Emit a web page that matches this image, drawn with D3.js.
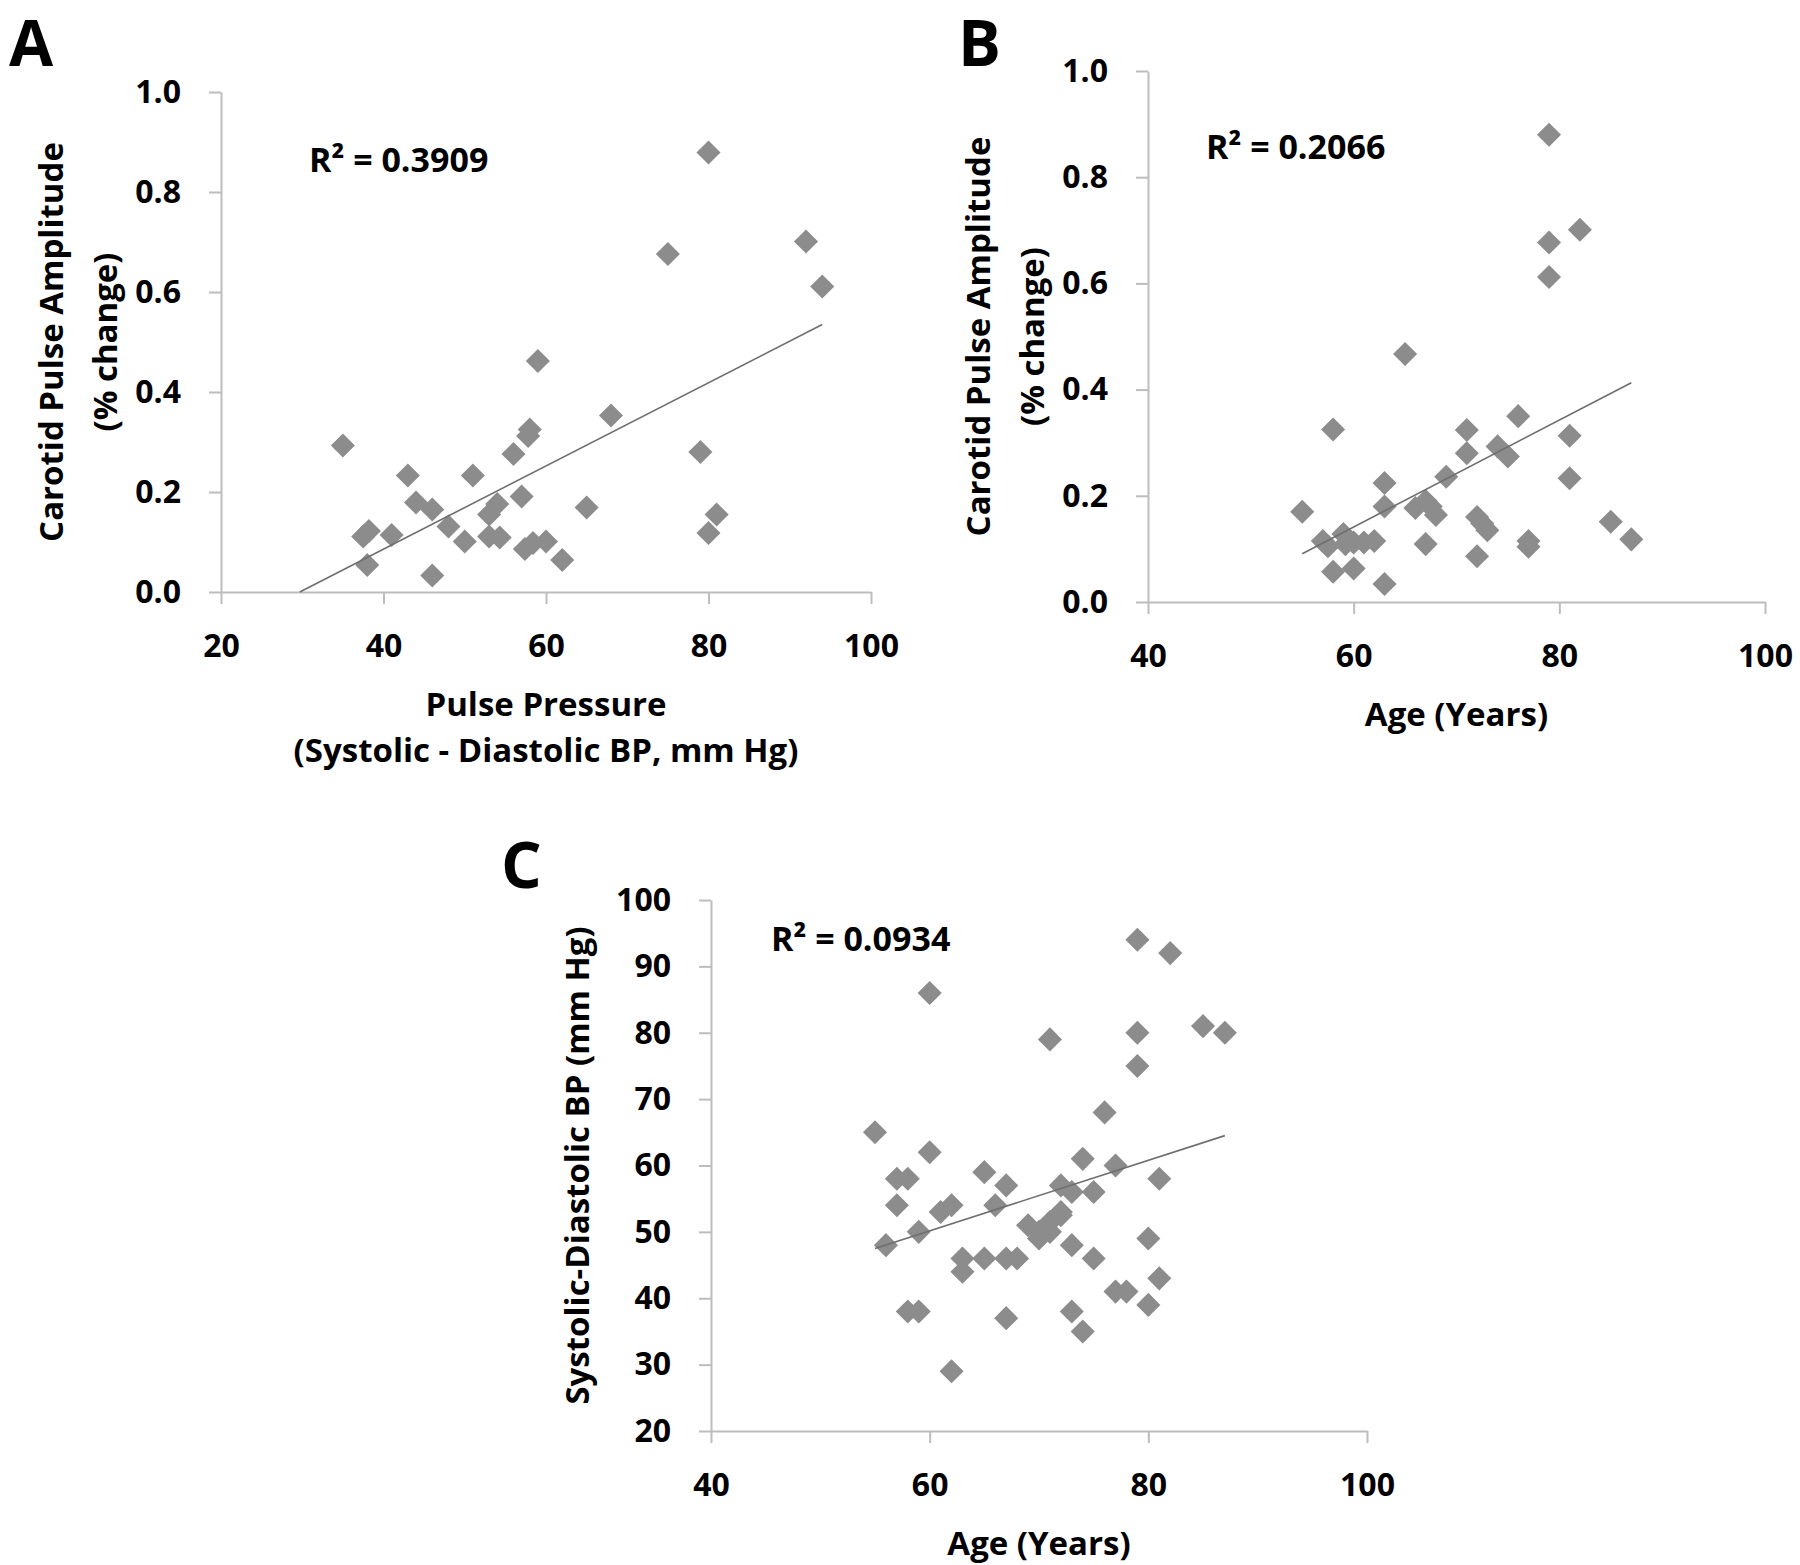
<!DOCTYPE html>
<html>
<head>
<meta charset="utf-8">
<script src="https://cdn.jsdelivr.net/npm/d3@7"></script>
<style>
  body { margin: 0; background: #fff; }
  text { font-family: "Open Sans", Lato, sans-serif; font-weight: 700; fill: #000; }
</style>
</head>
<body>
<div class="chart"></div>
<script>
// panel A: pulse pressure vs carotid pulse amplitude
const ppA  = [35, 38, 37.5, 38.2, 41, 43, 44, 46, 46, 48, 50, 51, 53, 54, 53, 54.3, 56, 57, 57.4, 58.4, 58, 57.8, 59, 60, 62, 65, 68, 75, 79, 80, 80, 81, 92, 94];
const ampA = [0.293, 0.054, 0.111, 0.122, 0.114, 0.233, 0.179, 0.165, 0.033, 0.131, 0.101, 0.233, 0.155, 0.176, 0.111, 0.109, 0.276, 0.191, 0.086, 0.098, 0.325, 0.312, 0.462, 0.101, 0.064, 0.169, 0.353, 0.676, 0.280, 0.879, 0.118, 0.155, 0.701, 0.611];

// panel B: age vs carotid pulse amplitude
const ageB = [55, 57, 57.5, 58, 58, 59, 59.2, 60, 60, 61, 62, 63, 63, 63, 65, 66, 67, 67.5, 68, 67, 69, 71, 71, 72, 72.5, 73, 72, 74, 75, 76, 77, 77, 79, 79, 79, 81, 81, 82, 85, 87];
const ampB = [0.170, 0.115, 0.105, 0.057, 0.325, 0.128, 0.109, 0.112, 0.063, 0.112, 0.115, 0.224, 0.180, 0.034, 0.467, 0.177, 0.190, 0.180, 0.164, 0.109, 0.236, 0.324, 0.280, 0.160, 0.148, 0.135, 0.086, 0.293, 0.274, 0.350, 0.115, 0.104, 0.880, 0.677, 0.612, 0.313, 0.233, 0.701, 0.151, 0.118];

// panel C: age vs systolic-diastolic BP
const ageC = [55, 56, 57, 58, 57, 58, 59, 59, 60, 60, 61, 62, 62, 63, 63, 65, 65, 66, 67, 67, 68, 67, 69, 70, 70, 71, 71, 72, 72, 71, 72, 73, 73, 73, 74, 74, 75, 75, 76, 77, 77, 78, 79, 79, 79, 80, 80, 81, 81, 82, 85, 87];
const bpC  = [65, 48, 58, 58, 54, 38, 38, 50, 62, 86, 53, 54, 29, 46, 44, 59, 46, 54, 57, 46, 46, 37, 51, 49, 50, 50, 51.5, 52.5, 53, 79, 57, 56, 48, 38, 61, 35, 56, 46, 68, 60, 41, 41, 94, 80, 75, 49, 39, 58, 43, 92, 81, 80];

// linear trend lines (end points)
const trendA = [[29.7, 0], [94, 0.535]];
const trendB = [[55, 0.091], [87, 0.413]];
const trendC = [[55, 47.5], [87, 64.5]];

const r2Labels = ["R\u00B2 = 0.3909", "R\u00B2 = 0.2066", "R\u00B2 = 0.0934"];

const xTicksA = [20, 40, 60, 80, 100];
const xTicksAge = [40, 60, 80, 100];
const yTicksAmp = [0, 0.2, 0.4, 0.6, 0.8, 1.0];
const yTicksBP = [20, 30, 40, 50, 60, 70, 80, 90, 100];

const width = 1800, height = 1565;

const svg = d3.select('.chart').append('svg')
    .attr('width', width)
    .attr('height', height)
    .attr('viewBox', [0, 0, width, height]);

const panels = [
    {
        letter: 'A', letterPos: [9, 66],
        xr: [221, 871], yr: [592, 92], xd: [20, 100], yd: [0, 1],
        xs: ppA, ys: ampA, trend: trendA, r2: r2Labels[0], r2Pos: [88, 80],
        xTicks: xTicksA, yTicks: yTicksAmp, yFmt: d3.format('.1f'),
        xTitle: ['Pulse Pressure', '(Systolic - Diastolic BP, mm Hg)'],
        yTitle: ['Carotid Pulse Amplitude', '(% change)']
    },
    {
        letter: 'B', letterPos: [958, 66],
        xr: [1148, 1765], yr: [602, 71], xd: [40, 100], yd: [0, 1],
        xs: ageB, ys: ampB, trend: trendB, r2: r2Labels[1], r2Pos: [58, 88],
        xTicks: xTicksAge, yTicks: yTicksAmp, yFmt: d3.format('.1f'),
        xTitle: ['Age (Years)'],
        yTitle: ['Carotid Pulse Amplitude', '(% change)']
    },
    {
        letter: 'C', letterPos: [501, 888],
        xr: [711, 1367], yr: [1431, 900], xd: [40, 100], yd: [20, 100],
        xs: ageC, ys: bpC, trend: trendC, r2: r2Labels[2], r2Pos: [60, 51],
        xTicks: xTicksAge, yTicks: yTicksBP, yFmt: d3.format('d'),
        xTitle: ['Age (Years)'],
        yTitle: ['Systolic-Diastolic BP (mm Hg)']
    }
];

const diamond = d3.symbol().type(d3.symbolSquare).size(290);

panels.forEach(p => {
    const x = d3.scaleLinear().domain(p.xd).range(p.xr);
    const y = d3.scaleLinear().domain(p.yd).range(p.yr);
    const g = svg.append('g');

    const xAxis = g.append('g')
        .attr('transform', `translate(0,${p.yr[0]})`)
        .call(d3.axisBottom(x).tickValues(p.xTicks).tickSize(12).tickSizeOuter(0).tickPadding(30));
    const yAxis = g.append('g')
        .attr('transform', `translate(${p.xr[0]},0)`)
        .call(d3.axisLeft(y).tickValues(p.yTicks).tickFormat(p.yFmt).tickSize(12).tickSizeOuter(0).tickPadding(28));

    [xAxis, yAxis].forEach(a => {
        a.select('.domain').attr('stroke', '#bdbdbd').attr('stroke-width', 2);
        a.selectAll('.tick line').attr('stroke', '#bdbdbd').attr('stroke-width', 2);
        a.selectAll('.tick text').attr('font-size', 32).attr('font-family', null).attr('fill', '#000');
    });

    // points
    g.append('g').selectAll('path')
        .data(d3.zip(p.xs, p.ys))
        .join('path')
        .attr('d', diamond)
        .attr('transform', d => `translate(${x(d[0])},${y(d[1])}) rotate(45)`)
        .attr('fill', '#8c8c8c');

    // trend line
    g.append('path')
        .datum(p.trend)
        .attr('d', d3.line().x(d => x(d[0])).y(d => y(d[1])))
        .attr('fill', 'none')
        .attr('stroke', '#6e6e6e')
        .attr('stroke-width', 1.6);

    g.append('text')
        .attr('x', p.xr[0] + p.r2Pos[0])
        .attr('y', p.yr[1] + p.r2Pos[1])
        .attr('font-size', 34)
        .text(p.r2);

    // x title
    const xc = (p.xr[0] + p.xr[1]) / 2;
    p.xTitle.forEach((t, i) => {
        g.append('text')
            .attr('x', xc)
            .attr('y', p.yr[0] + 124 + i * 46)
            .attr('text-anchor', 'middle')
            .attr('font-size', 33)
            .text(t);
    });

    // y title
    const yc = (p.yr[0] + p.yr[1]) / 2;
    const yOff = p.yTitle.length > 1 ? [-170, -116] : [-134];
    p.yTitle.forEach((t, i) => {
        g.append('text')
            .attr('transform', `translate(${p.xr[0] + yOff[i]},${yc}) rotate(-90)`)
            .attr('text-anchor', 'middle')
            .attr('dy', '0.36em')
            .attr('font-size', 33)
            .text(t);
    });

    svg.append('text')
        .attr('x', p.letterPos[0])
        .attr('y', p.letterPos[1])
        .attr('font-family', '"Liberation Sans", Arial, sans-serif')
        .attr('font-size', 64)
        .attr('font-weight', 700)
        .text(p.letter);
});
</script>
</body>
</html>
